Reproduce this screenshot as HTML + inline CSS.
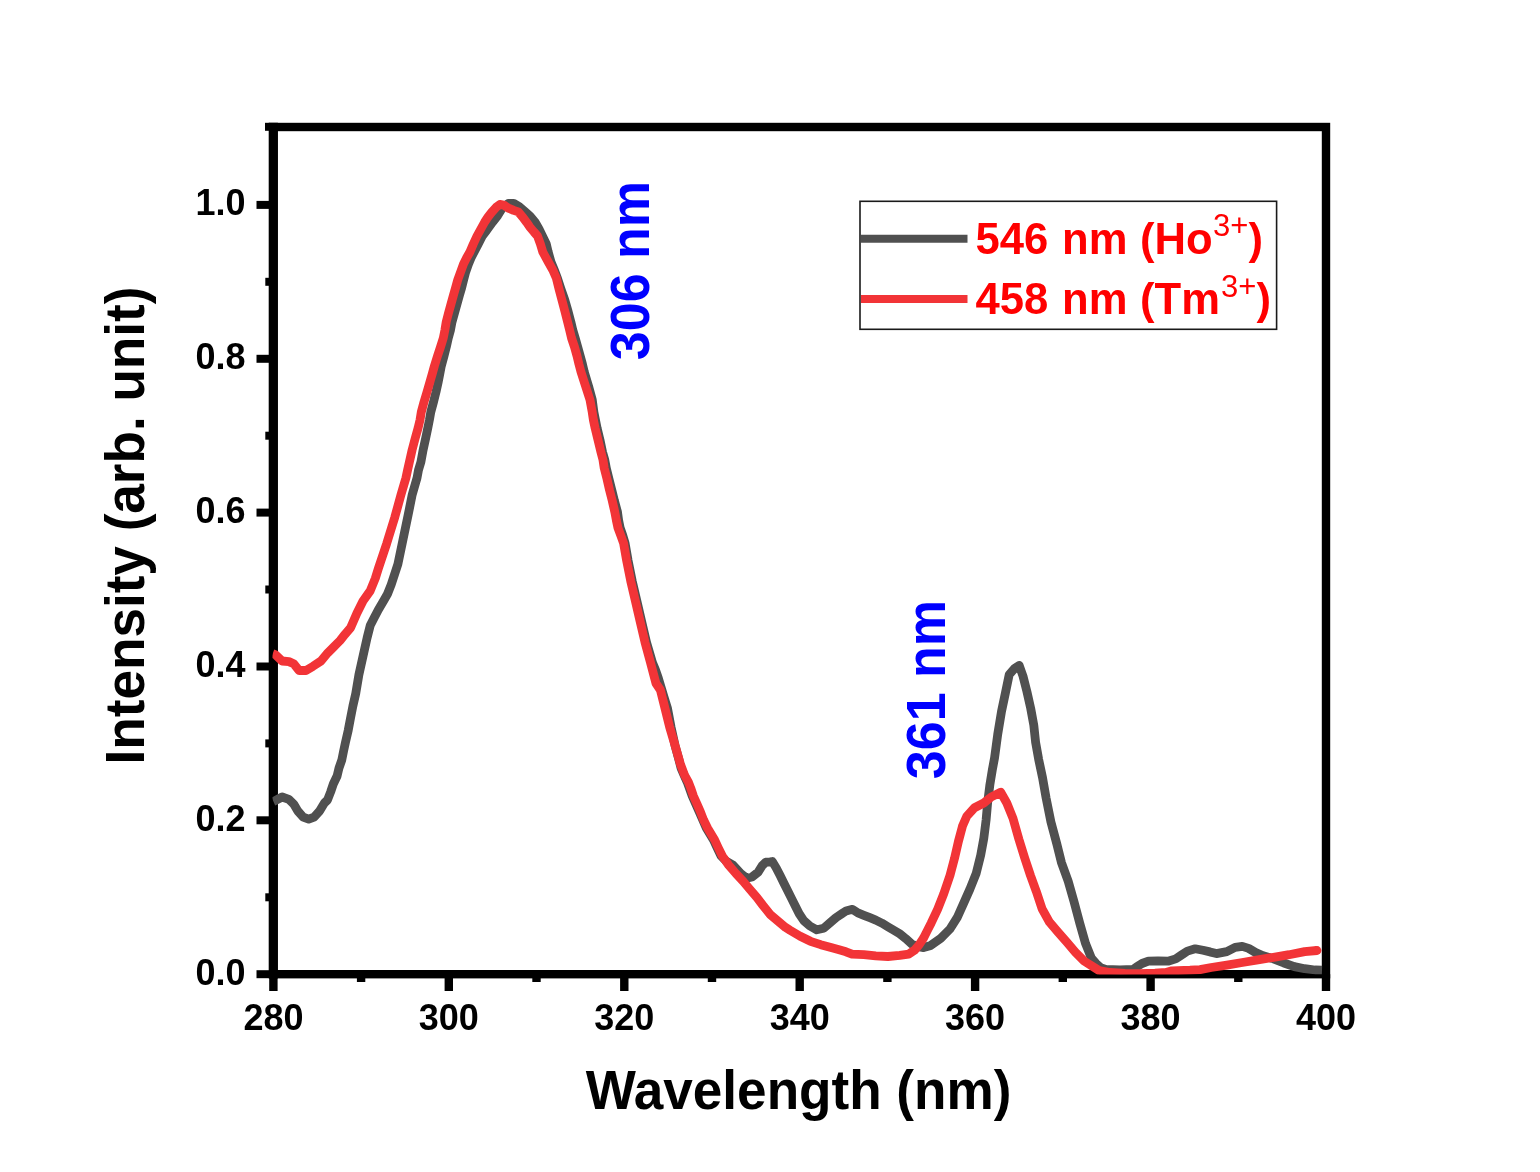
<!DOCTYPE html>
<html><head><meta charset="utf-8"><title>Excitation spectra</title>
<style>
html,body{margin:0;padding:0;background:#fff;}
body{width:1540px;height:1172px;overflow:hidden;}
svg{display:block;}
text{font-family:"Liberation Sans",Arial,sans-serif;font-weight:bold;}
.tk{font-size:36px;fill:#000;}
.ttl{font-size:53.1px;fill:#000;}
.ann{font-size:52px;fill:#0000ff;}
.lg{font-size:43.6px;fill:#ff0000;}
.sup{font-size:31px;font-weight:normal;}
</style></head>
<body>
<svg width="1540" height="1172" viewBox="0 0 1540 1172">
<rect width="1540" height="1172" fill="#fff"/>
<g id="axes">
<rect x="273.4" y="127.0" width="1052.6" height="847.2" fill="none" stroke="#000" stroke-width="8.4"/>
<line x1="273.3" y1="122.8" x2="273.3" y2="978.4" stroke="#000" stroke-width="9.2"/>
<rect x="265" y="122.8" width="4.5" height="8" fill="#000"/>
<line x1="273.4" y1="974.2" x2="273.4" y2="991" stroke="#000" stroke-width="8.4"/>
<line x1="448.8" y1="974.2" x2="448.8" y2="991" stroke="#000" stroke-width="8.4"/>
<line x1="624.3" y1="974.2" x2="624.3" y2="991" stroke="#000" stroke-width="8.4"/>
<line x1="799.7" y1="974.2" x2="799.7" y2="991" stroke="#000" stroke-width="8.4"/>
<line x1="975.1" y1="974.2" x2="975.1" y2="991" stroke="#000" stroke-width="8.4"/>
<line x1="1150.6" y1="974.2" x2="1150.6" y2="991" stroke="#000" stroke-width="8.4"/>
<line x1="1326.0" y1="974.2" x2="1326.0" y2="991" stroke="#000" stroke-width="8.4"/>
<line x1="361.1" y1="974.2" x2="361.1" y2="982" stroke="#000" stroke-width="8.4"/>
<line x1="536.5" y1="974.2" x2="536.5" y2="982" stroke="#000" stroke-width="8.4"/>
<line x1="712.0" y1="974.2" x2="712.0" y2="982" stroke="#000" stroke-width="8.4"/>
<line x1="887.4" y1="974.2" x2="887.4" y2="982" stroke="#000" stroke-width="8.4"/>
<line x1="1062.8" y1="974.2" x2="1062.8" y2="982" stroke="#000" stroke-width="8.4"/>
<line x1="1238.3" y1="974.2" x2="1238.3" y2="982" stroke="#000" stroke-width="8.4"/>
<line x1="256.5" y1="974.2" x2="273.4" y2="974.2" stroke="#000" stroke-width="8"/>
<line x1="256.5" y1="820.3" x2="273.4" y2="820.3" stroke="#000" stroke-width="8"/>
<line x1="256.5" y1="666.5" x2="273.4" y2="666.5" stroke="#000" stroke-width="8"/>
<line x1="256.5" y1="512.6" x2="273.4" y2="512.6" stroke="#000" stroke-width="8"/>
<line x1="256.5" y1="358.8" x2="273.4" y2="358.8" stroke="#000" stroke-width="8"/>
<line x1="256.5" y1="204.9" x2="273.4" y2="204.9" stroke="#000" stroke-width="8"/>
<line x1="265.3" y1="897.3" x2="273.4" y2="897.3" stroke="#000" stroke-width="8"/>
<line x1="265.3" y1="743.4" x2="273.4" y2="743.4" stroke="#000" stroke-width="8"/>
<line x1="265.3" y1="589.5" x2="273.4" y2="589.5" stroke="#000" stroke-width="8"/>
<line x1="265.3" y1="435.7" x2="273.4" y2="435.7" stroke="#000" stroke-width="8"/>
<line x1="265.3" y1="281.8" x2="273.4" y2="281.8" stroke="#000" stroke-width="8"/>
</g>
<g id="labels">
<text transform="translate(273.4 1030.4) scale(1 1.03)" text-anchor="middle" class="tk">280</text>
<text transform="translate(448.8 1030.4) scale(1 1.03)" text-anchor="middle" class="tk">300</text>
<text transform="translate(624.3 1030.4) scale(1 1.03)" text-anchor="middle" class="tk">320</text>
<text transform="translate(799.7 1030.4) scale(1 1.03)" text-anchor="middle" class="tk">340</text>
<text transform="translate(975.1 1030.4) scale(1 1.03)" text-anchor="middle" class="tk">360</text>
<text transform="translate(1150.6 1030.4) scale(1 1.03)" text-anchor="middle" class="tk">380</text>
<text transform="translate(1326.0 1030.4) scale(1 1.03)" text-anchor="middle" class="tk">400</text>
<text transform="translate(245.5 984.7) scale(1 1.03)" text-anchor="end" class="tk">0.0</text>
<text transform="translate(245.5 830.8) scale(1 1.03)" text-anchor="end" class="tk">0.2</text>
<text transform="translate(245.5 677.0) scale(1 1.03)" text-anchor="end" class="tk">0.4</text>
<text transform="translate(245.5 523.1) scale(1 1.03)" text-anchor="end" class="tk">0.6</text>
<text transform="translate(245.5 369.3) scale(1 1.03)" text-anchor="end" class="tk">0.8</text>
<text transform="translate(245.5 215.4) scale(1 1.03)" text-anchor="end" class="tk">1.0</text>
<text transform="translate(798.5 1109) scale(1 1.03)" text-anchor="middle" class="ttl">Wavelength (nm)</text>
<text transform="translate(144.2 525.5) rotate(-90) scale(1 1.03)" text-anchor="middle" class="ttl">Intensity (arb. unit)</text>
<text transform="translate(648.8 270.6) rotate(-90) scale(1 1.05)" text-anchor="middle" class="ann">306 nm</text>
<text transform="translate(944.6 689.6) rotate(-90) scale(1 1.05)" text-anchor="middle" class="ann">361 nm</text>
</g>
<defs><clipPath id="pc"><rect x="272.5" y="127" width="1054" height="847.4"/></clipPath></defs>
<g id="curves" clip-path="url(#pc)" fill="none" stroke-width="8.8" stroke-linejoin="round">
<polyline stroke="#505050" points="273.4,801.5 275.2,800.7 282.1,797.0 288.9,799.4 293.7,804.1 297.8,811.0 303.2,817.1 308.7,819.1 314.1,817.1 319.6,811.0 324.4,803.0 327.5,800.0 330.6,792.0 333.3,784.0 337.1,776.0 339.0,768.0 341.8,760.0 343.6,751.0 345.4,742.6 348.2,730.4 350.5,718.2 352.9,706.0 355.7,693.8 358.9,674.8 363.0,656.3 367.1,637.9 370.2,625.6 374.3,617.6 378.5,609.5 383.5,601.0 387.5,594.0 391.2,584.7 397.9,564.2 403.0,539.7 408.1,515.2 412.2,494.7 417.0,478.0 418.5,470.0 420.9,462.0 423.1,450.0 425.5,439.0 427.8,428.0 429.4,420.0 430.8,412.0 433.5,402.0 436.0,392.0 438.2,382.0 439.8,374.0 441.3,366.0 444.0,356.0 446.3,347.0 448.3,338.0 450.5,330.0 452.0,322.0 454.5,313.0 457.0,304.0 459.5,295.0 461.6,288.0 463.6,280.0 465.7,272.0 468.5,264.0 471.0,258.0 474.1,252.0 478.3,244.0 482.3,236.0 486.9,230.0 492.7,222.0 497.6,215.7 502.2,208.1 508.3,203.4 513.7,203.4 519.1,206.5 525.2,211.9 530.0,216.0 535.0,222.0 539.0,229.0 542.4,236.0 546.3,244.0 548.2,252.0 551.0,262.0 554.3,270.0 557.4,278.0 561.0,289.0 564.8,300.0 568.0,311.0 570.9,322.0 572.8,330.0 575.2,338.0 577.7,347.0 580.2,356.0 582.4,364.0 584.3,372.0 588.5,386.0 592.3,400.0 593.9,412.0 595.5,420.0 597.1,428.0 600.0,440.0 602.5,452.0 604.8,460.0 606.3,468.0 609.0,479.0 611.8,490.0 614.5,501.0 617.5,512.0 618.6,520.0 620.2,528.0 622.8,535.5 625.1,543.2 628.1,560.5 632.2,580.9 637.0,601.4 641.7,621.8 646.5,642.3 652.5,662.7 655.5,670.0 658.3,678.0 661.0,687.0 664.0,697.0 667.5,708.4 671.0,726.9 675.0,745.3 679.0,760.0 681.0,768.0 684.0,775.0 687.2,782.1 692.2,796.0 699.3,812.0 706.3,828.0 713.5,840.0 717.2,848.0 721.1,856.0 726.0,861.0 732.9,865.1 740.7,873.5 746.7,878.2 752.0,877.0 758.0,872.3 762.2,865.7 765.8,862.1 770.0,861.8 772.3,861.5 776.1,867.7 780.0,875.3 783.8,883.0 787.7,890.7 791.5,898.4 795.3,906.0 799.2,913.7 803.8,920.6 809.9,926.0 816.8,929.8 823.7,928.3 829.9,922.9 836.0,917.6 842.9,913.0 846.0,911.1 852.5,909.3 857.9,912.9 863.9,915.3 869.9,917.7 875.8,920.1 881.8,923.1 887.8,926.7 893.8,930.2 899.7,933.8 905.7,938.6 911.7,944.0 917.1,946.4 923.6,947.6 930.0,945.8 940.7,938.3 950.0,929.0 957.6,916.8 963.8,902.9 969.9,889.1 976.1,873.7 980.7,855.3 983.8,838.4 986.1,820.0 987.6,803.0 989.9,784.6 992.3,770.0 994.6,757.6 997.7,734.5 1001.5,711.5 1005.4,693.0 1009.2,674.6 1014.6,668.4 1019.2,665.4 1023.0,676.1 1026.9,691.5 1030.7,708.4 1033.8,725.3 1035.6,742.2 1038.6,759.1 1042.5,777.5 1046.1,798.0 1050.9,821.8 1056.7,843.5 1061.4,862.4 1068.2,881.3 1074.0,901.6 1079.8,923.4 1085.6,943.7 1091.4,958.2 1096.0,963.5 1100.5,967.5 1105.6,969.4 1120.0,970.0 1133.0,969.5 1136.8,966.7 1142.0,963.5 1148.4,961.2 1158.0,960.8 1167.9,961.2 1175.7,958.9 1181.5,955.0 1187.4,951.1 1195.2,948.8 1203.0,950.3 1210.0,951.9 1216.4,953.6 1226.8,951.6 1235.1,947.4 1242.3,946.4 1248.6,948.4 1255.8,952.6 1263.1,955.7 1273.5,958.8 1283.9,963.0 1294.3,966.6 1304.7,968.7 1315.1,970.0 1322.0,970.2"/>
<polyline stroke="#f23437" points="272.7,653.7 275.2,654.6 282.1,661.0 288.9,661.6 293.7,663.7 299.1,670.5 306.0,670.5 312.8,666.4 321.0,661.0 327.8,652.8 333.3,647.3 340.1,640.5 345.0,634.3 350.7,627.6 356.9,613.3 363.0,601.0 370.2,590.9 375.3,578.4 378.4,568.4 386.6,543.8 394.8,517.2 401.0,494.7 405.9,478.0 407.6,470.0 409.4,462.0 412.1,450.0 415.0,439.0 418.1,428.0 420.0,420.0 421.3,412.0 424.0,402.0 427.0,392.0 429.9,382.0 432.2,374.0 434.4,366.0 437.5,356.0 440.5,347.0 443.3,338.0 444.9,330.0 446.2,322.0 448.5,313.0 451.0,304.0 453.5,295.0 455.5,288.0 457.7,280.0 460.6,272.0 463.5,264.0 466.5,258.0 469.9,252.0 473.3,244.0 477.0,236.0 480.3,230.0 484.7,222.0 488.0,217.0 491.5,212.5 496.1,207.3 499.9,204.4 503.7,205.0 508.3,208.1 513.7,210.4 518.3,211.9 522.9,217.3 526.8,222.6 530.0,227.2 534.0,232.0 537.5,236.0 540.4,244.0 542.8,252.0 545.5,257.0 548.3,262.0 552.8,270.0 556.3,278.0 559.0,289.0 561.9,300.0 564.8,311.0 567.6,322.0 569.6,330.0 571.5,338.0 574.5,347.0 577.0,356.0 578.9,364.0 581.0,372.0 585.5,386.0 590.0,400.0 592.2,412.0 593.4,420.0 595.1,428.0 598.0,440.0 600.9,452.0 603.0,460.0 604.2,468.0 607.0,479.0 609.5,490.0 612.3,501.0 614.8,512.0 616.3,520.0 618.0,528.0 620.8,535.5 623.6,543.2 626.6,560.5 630.7,580.9 635.5,601.4 640.2,621.8 645.0,642.3 650.5,662.7 655.9,683.2 660.4,690.0 665.0,708.4 669.6,726.9 675.0,745.3 680.3,763.7 684.5,775.0 688.4,782.1 690.7,788.0 693.4,796.0 697.0,804.0 700.5,812.0 703.6,820.0 707.5,828.0 714.7,840.0 718.4,848.0 722.3,856.0 728.7,865.1 735.9,873.5 743.1,881.2 749.6,889.0 756.8,897.3 763.0,905.5 770.0,914.3 777.7,920.9 785.4,927.3 790.0,930.2 800.2,936.2 810.5,941.3 820.7,944.7 831.0,947.5 840.0,950.0 846.0,951.8 852.0,954.1 863.9,954.7 875.8,955.9 887.8,956.5 899.7,955.3 908.7,954.1 914.7,950.0 918.9,945.2 923.6,938.0 927.8,929.6 931.2,922.9 937.7,909.1 943.8,893.7 950.0,875.3 954.5,858.4 958.4,841.5 962.5,826.1 966.9,816.1 974.5,807.7 983.8,803.0 991.4,796.9 1000.7,792.3 1006.8,803.0 1013.0,818.4 1018.9,839.2 1024.7,858.0 1030.5,875.5 1036.3,891.4 1042.1,908.8 1049.3,921.9 1058.0,932.1 1066.8,942.2 1075.5,952.4 1084.2,961.1 1094.3,967.5 1099.0,970.5 1110.0,972.5 1125.0,973.5 1140.0,973.7 1155.0,973.2 1166.0,972.5 1172.0,970.8 1190.0,970.2 1200.0,969.6 1211.2,967.5 1226.8,965.1 1242.3,962.5 1257.9,959.9 1273.5,957.3 1289.1,954.7 1304.7,951.6 1317.0,950.5"/>
<circle cx="1317" cy="950.5" r="4.4" fill="#f23437"/>
</g>
<g id="legend">
<rect x="860" y="201.3" width="416.6" height="128" fill="none" stroke="#1a1a1a" stroke-width="1.6"/>
<line x1="861" y1="238.8" x2="967.5" y2="238.8" stroke="#505050" stroke-width="8"/>
<line x1="861" y1="298.9" x2="967.5" y2="298.9" stroke="#f23437" stroke-width="8"/>
<text y="253.8" class="lg"><tspan x="975.5">546 </tspan><tspan x="1062">nm </tspan><tspan x="1140">(Ho</tspan><tspan class="sup" x="1213" y="235.8">3+</tspan><tspan x="1248.5" y="253.8">)</tspan></text>
<text y="313.7" class="lg"><tspan x="975.5">458 </tspan><tspan x="1062">nm </tspan><tspan x="1140">(Tm</tspan><tspan class="sup" x="1221" y="296.9">3+</tspan><tspan x="1256.5" y="313.7">)</tspan></text>
</g>
</svg>
</body></html>
